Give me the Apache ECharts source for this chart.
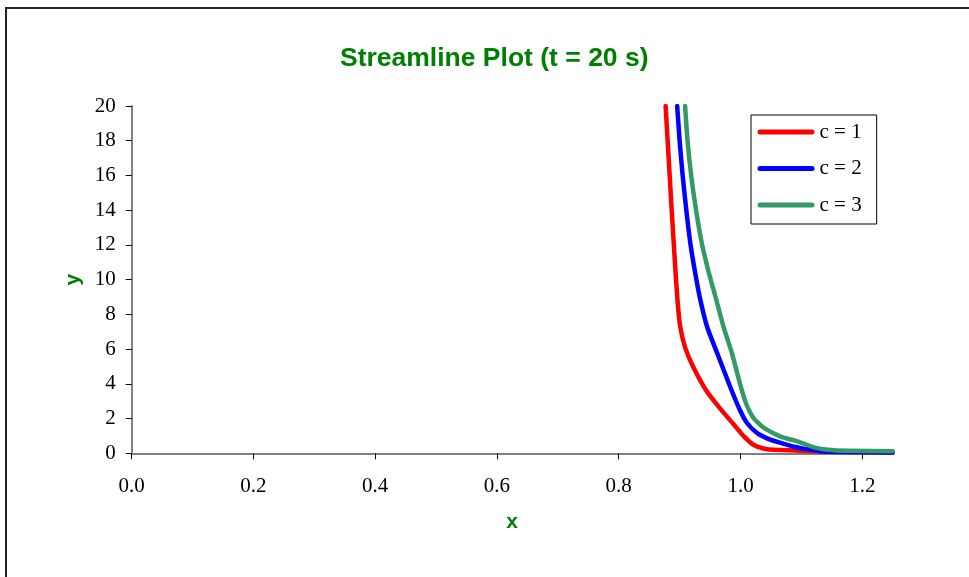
<!DOCTYPE html>
<html>
<head>
<meta charset="utf-8">
<script src="https://cdn.jsdelivr.net/npm/echarts@6/dist/echarts.min.js"></script>
<style>
html,body{margin:0;padding:0;background:#fff;}
#chart{width:969px;height:577px;}
</style>
</head>
<body>
<div id="chart"></div>
<script>
const xTicks = [0, 0.2, 0.4, 0.6, 0.8, 1.0, 1.2];
const yTicks = [0, 2, 4, 6, 8, 10, 12, 14, 16, 18, 20];
const seriesNames = ['c = 1', 'c = 2', 'c = 3'];

const c1X = [0.877, 0.882, 0.887, 0.893, 0.897, 0.901, 0.909, 0.922, 0.944, 0.966, 0.988, 1.006, 1.022, 1.044, 1.066, 1.09, 1.12, 1.25];
const c1Y = [20, 17, 14, 10.6, 8.6, 7.3, 6.1, 5.0, 3.6, 2.6, 1.7, 0.96, 0.48, 0.23, 0.19, 0.16, 0.12, 0.05];

const c2X = [0.896, 0.900, 0.905, 0.911, 0.918, 0.925, 0.933, 0.945, 0.964, 0.983, 0.999, 1.011, 1.028, 1.05, 1.066, 1.088, 1.11, 1.132, 1.17, 1.25];
const c2Y = [20, 18, 16, 14, 12, 10.5, 9.0, 7.3, 5.56, 3.83, 2.49, 1.73, 1.15, 0.77, 0.6, 0.38, 0.23, 0.12, 0.08, 0.05];

const c3X = [0.909, 0.913, 0.919, 0.927, 0.937, 0.948, 0.959, 0.972, 0.986, 0.999, 1.009, 1.021, 1.037, 1.066, 1.088, 1.105, 1.121, 1.143, 1.176, 1.25];
const c3Y = [20, 18, 16, 14, 12, 10.4, 9.0, 7.3, 5.76, 4.03, 2.88, 2.05, 1.5, 0.96, 0.74, 0.54, 0.34, 0.2, 0.14, 0.12];

const colors = ['#FF0000', '#0000FF', '#339966'];
const zip = (xs, ys) => xs.map((x, i) => [x, ys[i]]);
const allX = [c1X, c2X, c3X];
const allY = [c1Y, c2Y, c3Y];

const chart = echarts.init(document.getElementById('chart'), null, {renderer: 'canvas'});
const serif = "'Liberation Serif', 'Times New Roman', serif";
const sans = "'Liberation Sans', Arial, sans-serif";

const option = {
  backgroundColor: '#fff',
  animation: false,
  title: {
    text: 'Streamline Plot (t = 20 s)',
    left: 340,
    top: 45,
    padding: 0,
    textStyle: {color: '#008000', fontFamily: sans, fontWeight: 'bold', fontSize: 26.5}
  },
  graphic: [
    {type: 'line', shape: {x1: 5, y1: 8, x2: 969, y2: 8}, style: {stroke: '#222', lineWidth: 2}},
    {type: 'line', shape: {x1: 6, y1: 8, x2: 6, y2: 577}, style: {stroke: '#222', lineWidth: 2}}
  ],
  legend: {
    orient: 'vertical',
    left: 751,
    top: 115,
    padding: [6, 15, 8, 6.5],
    borderColor: '#000',
    borderWidth: 1,
    backgroundColor: '#fff',
    itemWidth: 57,
    itemHeight: 5,
    itemGap: 14.5,
    icon: 'path://M2.5 0H54.5A2.5 2.5 0 0 1 54.5 5H2.5A2.5 2.5 0 0 1 2.5 0Z',
    data: seriesNames,
    textStyle: {fontFamily: serif, fontSize: 21, color: '#000', lineHeight: 22}
  },
  grid: {left: 131.7, right: 76.3, top: 106, bottom: 123.7, containLabel: false},
  xAxis: {
    type: 'value',
    min: 0,
    max: 1.25,
    name: 'x',
    nameLocation: 'middle',
    nameGap: 58,
    nameTextStyle: {color: '#008000', fontFamily: sans, fontWeight: 'bold', fontSize: 21},
    axisLine: {lineStyle: {color: '#808080', width: 2}},
    axisTick: {show: true, length: 6, customValues: xTicks, lineStyle: {color: '#000', width: 1}},
    axisLabel: {customValues: xTicks, margin: 23, fontFamily: serif, fontSize: 21, color: '#000',
      formatter: v => v.toFixed(1)},
    splitLine: {show: false}
  },
  yAxis: {
    type: 'value',
    min: 0,
    max: 20,
    name: 'y',
    nameLocation: 'middle',
    nameRotate: 90,
    nameGap: 46,
    nameTextStyle: {color: '#008000', fontFamily: sans, fontWeight: 'bold', fontSize: 21},
    axisLine: {show: true, lineStyle: {color: '#808080', width: 2}},
    axisTick: {show: true, length: 6, customValues: yTicks, lineStyle: {color: '#000', width: 1}},
    axisLabel: {customValues: yTicks, margin: 16, fontFamily: serif, fontSize: 21, color: '#000'},
    splitLine: {show: false}
  },
  series: seriesNames.map((n, i) => ({
    name: n,
    type: 'line',
    data: zip(allX[i], allY[i]),
    showSymbol: false,
    symbol: 'none',
    smooth: 0.2,
    clip: true,
    color: colors[i],
    lineStyle: {color: colors[i], width: 4.5, cap: 'round', join: 'round'},
    z: 2 + i
  }))
};
chart.setOption(option);
</script>
</body>
</html>
